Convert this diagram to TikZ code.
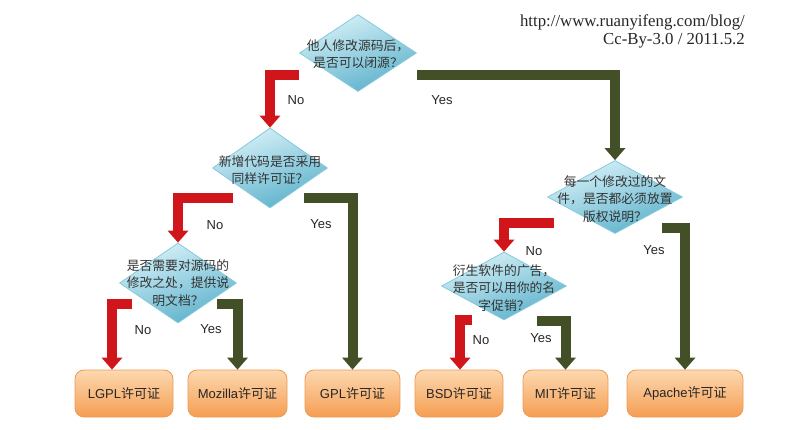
\documentclass[tikz,border=0pt]{standalone}
\usepackage{fontspec}
\setmainfont{Liberation Serif}
\newfontfamily\cjk{Noto Sans CJK SC}
\newfontfamily\lsans{Liberation Sans}
\usetikzlibrary{shapes.geometric,arrows.meta}
\definecolor{dtop}{HTML}{D6F1F8}
\definecolor{dbot}{HTML}{5CB1CB}
\definecolor{dline}{HTML}{86C9DC}
\definecolor{btop}{HTML}{FDD8B0}
\definecolor{bbot}{HTML}{F59E52}
\definecolor{bline}{HTML}{EE9A55}
\definecolor{nored}{HTML}{D0161A}
\definecolor{yesgr}{HTML}{434F27}
\definecolor{dtxt}{HTML}{333333}
\tikzset{
  dia/.style 2 args={diamond, draw=dline, line width=0.8pt, top color=dtop,
    bottom color=dbot, shading angle=20, inner sep=0pt,
    minimum width=#1, minimum height=#2},
  dtext/.style={align=center, text=dtxt, inner sep=0pt,
    font=\cjk\fontsize{12.8}{17.5}\selectfont},
  lbox/.style={rectangle, rounded corners=9pt, draw=bline, line width=0.8pt,
    top color=btop, bottom color=bbot, minimum height=47pt, inner sep=0pt,
    text=black!85, font=\lsans\fontsize{13}{15}\selectfont},
  bar/.style={line width=10pt, line join=miter,
    -{Triangle[width=21pt,length=12pt,line width=0pt]}},
  nobar/.style={bar, draw=nored},
  yesbar/.style={bar, draw=yesgr},
  lab/.style={inner sep=0pt, text=black!85, font=\lsans\fontsize{13}{15}\selectfont},
  url/.style={inner sep=0pt, anchor=base east, text=black!85, font=\fontsize{16.8}{18}\selectfont}
}
\begin{document}
\begin{tikzpicture}[x=1pt,y=-1pt]
\useasboundingbox (0,0) rectangle (795,430);

% decisions
\node[dia={117}{77}] (d1) at (358,53) {};
\node[dtext] (t1) at (358,54) {他人修改源码后，\\是否可以闭源？};
\node[dia={115}{80}] (d2) at (270,168) {};
\node[dtext] (t2) at (270,170) {新增代码是否采用\\同样许可证？};
\node[dia={117}{80}] (d3) at (178,283) {};
\node[dtext] (t3) at (178,283) {是否需要对源码的\\修改之处，提供说\\明文档？};
\node[dia={135}{73}] (d4) at (615,197) {};
\node[dtext] (t4) at (615,199) {每一个修改过的文\\件，是否都必须放置\\版权说明？};
\node[dia={125}{68}] (d5) at (504,286) {};
\node[dtext] (t5) at (504,288) {衍生软件的广告，\\是否可以用你的名\\字促销？};

% licences
\node[lbox, minimum width=98pt] (lgpl) at (124,393.5) {LGPL{\cjk 许可证}};
\node[lbox, minimum width=99pt] (moz) at (237.5,393.5) {Mozilla{\cjk 许可证}};
\node[lbox, minimum width=95pt] (gpl) at (352.5,393.5) {GPL{\cjk 许可证}};
\node[lbox, minimum width=88pt] (bsd) at (459,393.5) {BSD{\cjk 许可证}};
\node[lbox, minimum width=85pt] (mit) at (565.5,393.5) {MIT{\cjk 许可证}};
\node[lbox, minimum width=116pt] (apache) at (685,393.5) {Apache{\cjk 许可证}};

% connectors
\draw[nobar] ([shift={(0,22)}]d1.west) -| (d2.north);
\draw[yesbar] ([shift={(0,22)}]d1.east) -| (d4.north);
\draw[nobar] ([shift={(21,30)}]d2.west) -| (d3.north);
\draw[yesbar] ([shift={(-24,30)}]d2.east) -| (gpl.north);
\draw[nobar] ([shift={(13,21)}]d3.west) -| ([xshift=-12pt]lgpl.north);
\draw[yesbar] ([shift={(-20,21)}]d3.east) -| (moz.north);
\draw[nobar] ([shift={(7,26)}]d4.west) -| (d5.north);
\draw[yesbar] ([shift={(-21,31)}]d4.east) -| (apache.north);
\draw[nobar] ([shift={(31,34)}]d5.west) -| ([xshift=1pt]bsd.north);
\draw[yesbar] ([shift={(-30,35)}]d5.east) -| (mit.north);

% labels
\node[lab] (l1) at (296,100) {No};
\node[lab] (l2) at (442,100) {Yes};
\node[lab] (l3) at (215,225) {No};
\node[lab] (l4) at (321,224) {Yes};
\node[lab] (l5) at (143,330) {No};
\node[lab] (l6) at (211,329) {Yes};
\node[lab] (l7) at (534,251) {No};
\node[lab] (l8) at (654,250) {Yes};
\node[lab] (l9) at (481,340) {No};
\node[lab] (l10) at (541,338) {Yes};

% credit
\node[url] (u1) at (745,27) {http://www.ruanyifeng.com/blog/};
\node[url] (u2) at (745,45) {Cc-By-3.0 / 2011.5.2};
\end{tikzpicture}
\end{document}
